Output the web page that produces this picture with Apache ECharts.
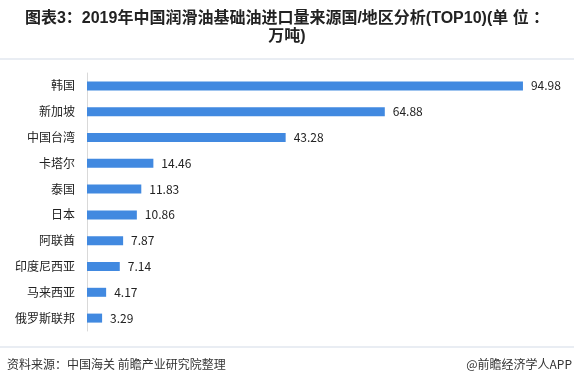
<!DOCTYPE html>
<html><head><meta charset="utf-8">
<script src="https://cdn.jsdelivr.net/npm/echarts@6/dist/echarts.min.js"></script>
<style>html,body{margin:0;padding:0;background:#fff;}#c{width:574px;height:387px;}</style>
</head><body><div id="c"></div>
<script>
const categories = ["韩国","新加坡","中国台湾","卡塔尔","泰国","日本","阿联酋","印度尼西亚","马来西亚","俄罗斯联邦"];
const values = [94.98,64.88,43.28,14.46,11.83,10.86,7.87,7.14,4.17,3.29];
const titleLine1 = "图表3：2019年中国润滑油基础油进口量来源国/地区分析(TOP10)(单 位 ：";
const titleLine2 = "万吨)";
const sourceText = "资料来源：中国海关 前瞻产业研究院整理";
const creditText = "@前瞻经济学人APP";

const chart = echarts.init(document.getElementById('c'));
const font = '"Noto Sans CJK SC", sans-serif';
const tfont = '"Liberation Sans", "Noto Sans CJK SC", sans-serif';
chart.setOption({
  backgroundColor: '#fff',
  animation: false,
  graphic: [
    {type:'text', left:'center', top:11, style:{text:titleLine1, font:'bold 16px '+tfont, fill:'#222'}},
    {type:'text', left:'center', top:29, style:{text:titleLine2, font:'bold 16px '+tfont, fill:'#222'}},
    {type:'rect', shape:{x:0,y:58,width:574,height:2}, style:{fill:'#e9edf3'}},
    {type:'rect', shape:{x:0,y:346,width:574,height:2}, style:{fill:'#e9edf3'}},
    {type:'text', left:7, top:358, style:{text:sourceText, font:'12px '+font, fill:'#333'}},
    {type:'text', right:2, top:358, style:{text:creditText, font:'12px '+font, fill:'#333'}}
  ],
  grid: {left:87, right:28, top:73, bottom:56, containLabel:false},
  xAxis: {type:'value', min:0, max:100, show:false},
  yAxis: {
    type:'category', data:categories, inverse:true,
    axisLine:{show:true, lineStyle:{color:'#d9d9d9', width:1}},
    axisTick:{show:false},
    axisLabel:{color:'#222', fontSize:12, fontFamily:font, margin:12}
  },
  series: [{
    type:'bar', data:values, barWidth:9,
    itemStyle:{color:'#4189e0'},
    label:{show:true, position:'right', distance:8, color:'#222', fontSize:12, fontFamily:font}
  }]
});
</script></body></html>
